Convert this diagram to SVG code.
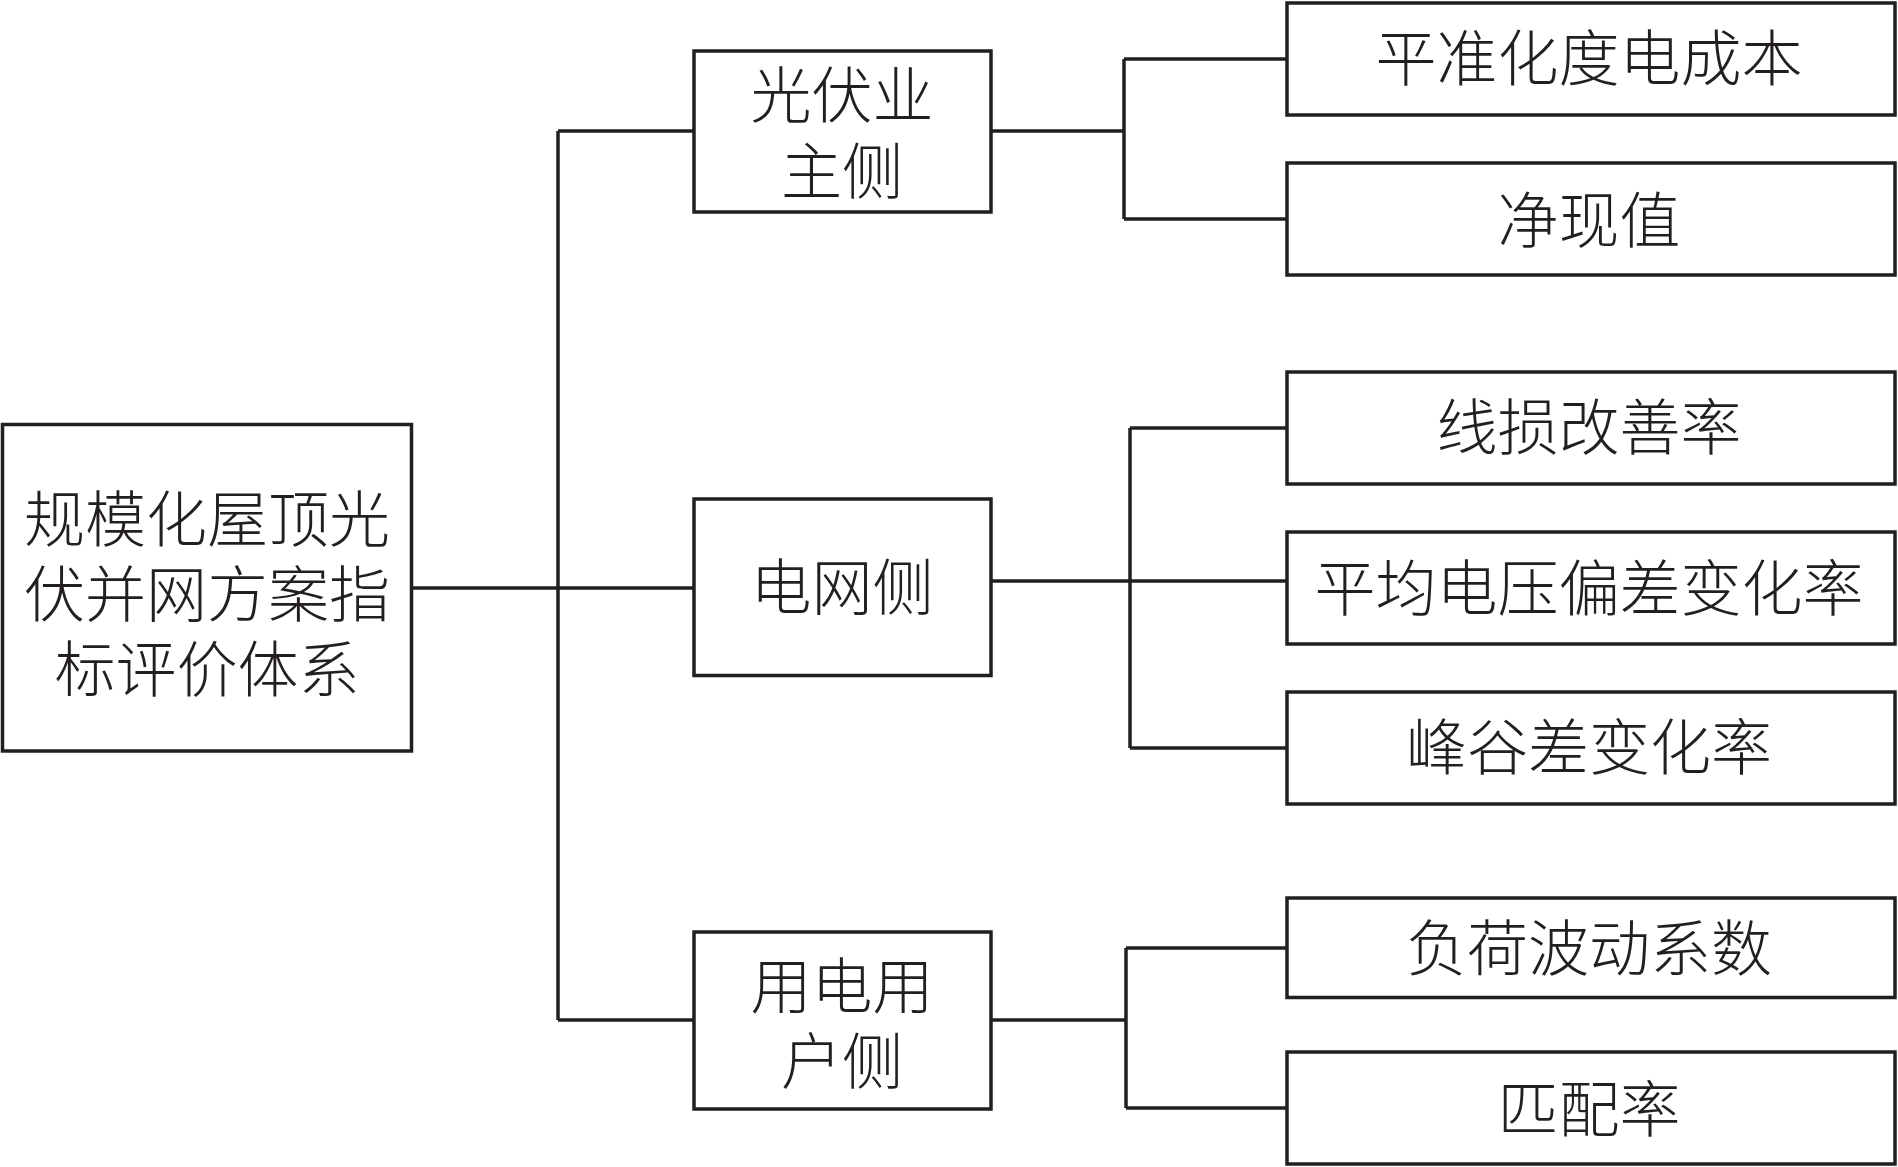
<svg xmlns="http://www.w3.org/2000/svg" width="1898" height="1167" viewBox="0 0 1898 1167">
<style>
.box{fill:#fff;stroke:#231f20;stroke-width:3.5}
.ln{fill:none;stroke:#231f20;stroke-width:3.5}
text{font-family:"Noto Sans CJK SC","Noto Sans",sans-serif;font-size:61px;fill:#231f20;text-anchor:middle;dominant-baseline:central;font-weight:300}
</style>
<rect width="1898" height="1167" fill="#fff"/>
<g id="connectors">
<path class="ln" d="M411 588 H558 M558 131 V1020 M558 131 H694 M558 588 H694 M558 1020 H694"/>
<path class="ln" d="M991 131 H1124 M1124 59 V219 M1124 59 H1287 M1124 219 H1287"/>
<path class="ln" d="M991 581 H1287 M1130 428 V748 M1130 428 H1287 M1130 748 H1287"/>
<path class="ln" d="M991 1020 H1126 M1126 948 V1108 M1126 948 H1287 M1126 1108 H1287"/>
</g>
<g id="root"><rect class="box" x="2.5" y="424.5" width="409" height="326.5"/>
<text x="207" y="515"><tspan x="207" y="515">规模化屋顶光</tspan><tspan x="207" y="590">伏并网方案指</tspan><tspan x="207" y="665">标评价体系</tspan></text></g>
<g id="pv-owner"><rect class="box" x="694" y="51" width="297" height="161"/>
<text x="842" y="91"><tspan x="842" y="91">光伏业</tspan><tspan x="842" y="167">主侧</tspan></text></g>
<g id="grid"><rect class="box" x="694" y="499" width="297" height="176.5"/>
<text x="842" y="583">电网侧</text></g>
<g id="user"><rect class="box" x="694" y="932" width="297" height="177"/>
<text x="842" y="982"><tspan x="842" y="982">用电用</tspan><tspan x="842" y="1057">户侧</tspan></text></g>
<g id="lcoe"><rect class="box" x="1287" y="3" width="608" height="112"/><text x="1589" y="54">平准化度电成本</text></g>
<g id="npv"><rect class="box" x="1287" y="163" width="608" height="112"/><text x="1589" y="216">净现值</text></g>
<g id="lineloss"><rect class="box" x="1287" y="372" width="608" height="112"/><text x="1589" y="423">线损改善率</text></g>
<g id="voltage"><rect class="box" x="1287" y="532" width="608" height="112"/><text x="1589" y="584">平均电压偏差变化率</text></g>
<g id="peakvalley"><rect class="box" x="1287" y="692" width="608" height="112"/><text x="1589" y="743">峰谷差变化率</text></g>
<g id="loadfluct"><rect class="box" x="1287" y="898" width="608" height="99.5"/><text x="1589" y="944">负荷波动系数</text></g>
<g id="match"><rect class="box" x="1287" y="1052" width="608" height="112"/><text x="1589" y="1105">匹配率</text></g>
</svg>
